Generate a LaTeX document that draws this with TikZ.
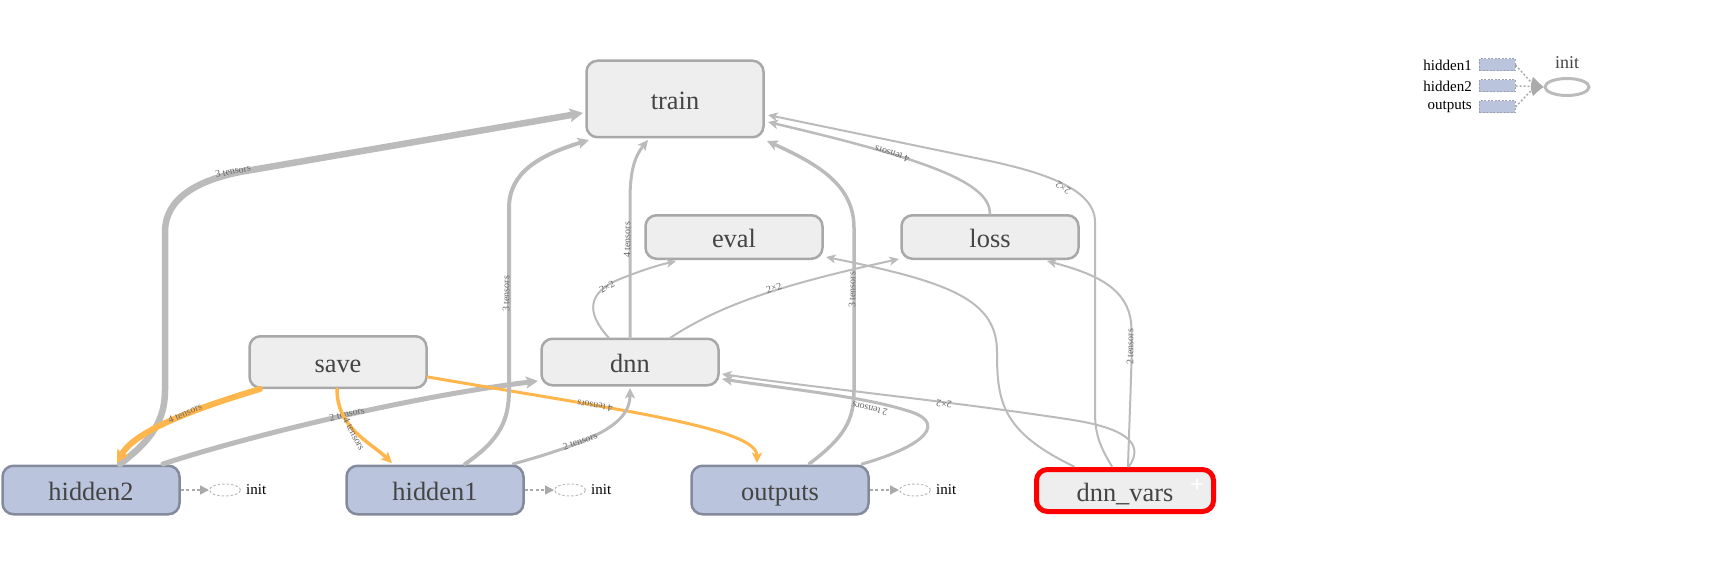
\documentclass[tikz,border=0pt]{standalone}
\usepackage{fontspec}
\setmainfont{Liberation Serif}
\usetikzlibrary{arrows.meta,calc,shapes.geometric}
\definecolor{edgec}{HTML}{BBBBBB}
\definecolor{opfill}{HTML}{EEEEEE}
\definecolor{opdraw}{HTML}{A8A8A8}
\definecolor{metafill}{HTML}{BAC4DC}
\definecolor{metadraw}{HTML}{828A9C}
\definecolor{orng}{HTML}{FFB74D}
\definecolor{txtc}{HTML}{444444}
\definecolor{lblc}{HTML}{666666}
\definecolor{initc}{HTML}{AAAAAA}
\tikzset{
  opbox/.style={rectangle, rounded corners=11pt, fill=opfill, draw=opdraw, line width=2.5pt,
    minimum width=177pt, inner sep=0pt, text=txtc, text height=22pt, text depth=1pt, font=\fontsize{26.4}{30}\selectfont},
  metabox/.style={opbox, fill=metafill, draw=metadraw, minimum height=48.5pt},
  edg/.style={draw=edgec, line cap=round, -{Stealth[length=8pt 0.8, width=7pt 1, inset=2.5pt]}},
  oedg/.style={edg, draw=orng},
  lbl/.style={inner sep=0pt, text=lblc, font=\fontsize{10}{12}\selectfont},
  initline/.style={draw=initc, line width=1.5pt, dash pattern=on 3pt off 2.5pt, -{Triangle[length=9pt,width=9pt]}},
  initell/.style={ellipse, draw=initc!80, line width=1pt, dash pattern=on 2.5pt off 2pt, minimum width=31pt, minimum height=12pt, inner sep=0pt},
  inittxt/.style={inner sep=0pt, font=\fontsize{15}{18}\selectfont},
  legrect/.style={rectangle, fill=metafill, draw=metadraw!80, line width=1pt, dash pattern=on 2pt off 1.5pt, minimum width=36pt, minimum height=12pt, inner sep=0pt},
  legtxt/.style={inner sep=0pt, anchor=east, font=\fontsize{15}{18}\selectfont},
  legline/.style={draw=initc, line width=1.5pt, dash pattern=on 2pt off 2pt}
}
\begin{document}
\begin{tikzpicture}[x=1pt,y=-1pt]
\useasboundingbox (0,0) rectangle (1710,583);
% nodes
\node[opbox, minimum height=76.5pt] (train) at (675,99) {train};
\node[opbox, minimum height=43.5pt] (eval) at (734,237) {eval};
\node[opbox, minimum height=43.5pt] (loss) at (990,237) {loss};
\node[opbox, minimum height=51.5pt] (save) at (338,362) {save};
\node[opbox, minimum height=46.5pt] (dnn) at (630,362) {dnn};
\node[metabox] (hidden2) at (91,490) {hidden2};
\node[metabox] (hidden1) at (435,490) {hidden1};
\node[metabox] (outputs) at (780,490) {outputs};
\node[opbox, minimum height=42pt, draw=red, line width=5pt] (dnnvars) at (1125,490.5) {dnn\_vars};
\node[inner sep=0pt, text=white, font=\bfseries\fontsize{24}{24}\selectfont] (plus) at ($(dnnvars.center)+(72,-5)$) {+};

% init side nodes
\node[initell] (i2) at (225,490) {};
\node[inittxt, anchor=west] (i2t) at (246,490) {init};
\node[initell] (i1) at (570,490) {};
\node[inittxt, anchor=west] (i1t) at (591,490) {init};
\node[initell] (i3) at (915,490) {};
\node[inittxt, anchor=west] (i3t) at (936,490) {init};
\draw[initline] (hidden2.east) -- (i2.west);
\draw[initline] (hidden1.east) -- (i1.west);
\draw[initline] (outputs.east) -- (i3.west);

% legend
\node[legrect] (lh1) at (1497,65) {};
\node[legrect] (lh2) at (1497,86) {};
\node[legrect] (lout) at (1497,107) {};
\node[legtxt] (lh1t) at (1472,65) {hidden1};
\node[legtxt] (lh2t) at (1472,86) {hidden2};
\node[legtxt] (loutt) at (1472,107) {outputs};
\node[ellipse, draw=edgec, line width=3pt, fill=white, minimum width=44pt, minimum height=17pt, inner sep=0pt] (linit) at (1567,87) {};
\node[inner sep=0pt, text=txtc, font=\fontsize{18}{20}\selectfont] (linitt) at (1567,63) {init};
\coordinate (lhub) at (1535,86.5);
\draw[legline] (lh1.east) -- (lhub);
\draw[legline] (lh2.east) -- (lhub);
\draw[legline] (lout.east) -- (lhub);
\fill[initc] (1533,77) .. controls (1537,81) .. (linit.west) .. controls (1537,92) .. (1533,96) .. controls (1530,87) .. cycle;

% edges
% hidden2 -> train
\draw[edg, line width=6.5pt] ($(hidden2.center)+(29,-26)$) .. controls (152,440) and (165,420) .. (165,390) -- (165,232)
   .. controls (165,197) and (200,180) .. (240,172) -- ($(train.center)+(-92,14)$);
\node[lbl, rotate=11] (l1) at (233,171) {3 tensors};
% hidden2 -> dnn
\draw[edg, line width=5pt] ($(hidden2.center)+(72,-26)$) .. controls (235,440) and (400,398) .. ($(dnn.center)+(-92,19)$);
\node[lbl, rotate=13] (l2) at (347,414) {2 tensors};
% save -> hidden2
\draw[oedg, line width=6pt] ($(save.center)+(-78,27)$) .. controls (200,407) and (135,430) .. ($(hidden2.center)+(26,-27)$);
\node[lbl, rotate=24] (l3) at (185,413) {4 tensors};
% save -> hidden1
\draw[oedg, line width=3.5pt] ($(save.center)+(-1,27)$) .. controls (337,428) and (370,442) .. ($(hidden1.center)+(-43,-27)$);
\node[lbl, rotate=-62] (l4) at (354,434) {4 tensors};
% save -> outputs
\draw[oedg, line width=3pt] ($(save.center)+(90,15)$) .. controls (620,410) and (757,428) .. ($(outputs.center)+(-23,-27)$);
\node[lbl, rotate=171] (l5) at (595,406) {4 tensors};
% hidden1 -> train
\draw[edg, line width=4pt] ($(hidden1.center)+(30,-26)$) .. controls (500,440) and (509,420) .. (509,390) -- (509,208)
   .. controls (509,172) and (540,155) .. ($(train.center)+(-86,41)$);
\node[lbl, rotate=90] (l6) at (506,294) {3 tensors};
% hidden1 -> dnn
\draw[edg, line width=3pt] ($(hidden1.center)+(78,-26)$) .. controls (600,440) and (630,422) .. ($(dnn.center)+(0,26)$);
\node[lbl, rotate=20] (l7) at (580,441) {2 tensors};
% dnn -> train
\draw[edg, line width=3pt] ($(dnn.center)+(0,-24)$) -- (630,200) .. controls (630,170) and (635,156) .. ($(train.center)+(-27,41)$);
\node[lbl, rotate=90] (l8) at (627,240) {4 tensors};
% dnn -> eval
\draw[edg, line width=2pt] ($(dnn.center)+(-21,-24)$) .. controls (585,312) and (588,292) .. (620,279) .. controls (640,271) and (655,266) .. ($(eval.center)+(-58,24)$);
\node[lbl, rotate=30] (l9) at (607,287) {2×2};
% dnn -> loss
\draw[edg, line width=2pt] ($(dnn.center)+(40,-24)$) .. controls (720,305) and (780,285) .. ($(loss.center)+(-91,22)$);
\node[lbl, rotate=16] (l10) at (774,288) {2×2};
% outputs -> train
\draw[edg, line width=3.5pt] ($(outputs.center)+(29,-26)$) .. controls (845,437) and (854,420) .. (854,390) -- (854,228)
   .. controls (854,186) and (820,165) .. ($(train.center)+(92,42)$);
\node[lbl, rotate=90] (l11) at (852,290) {3 tensors};
% outputs -> dnn
\draw[edg, line width=3pt] ($(outputs.center)+(82,-26)$) .. controls (925,446) and (950,422) .. (905,410) .. controls (860,396) and (780,388) .. ($(dnn.center)+(92,17)$);
\node[lbl, rotate=167] (l12) at (870,409) {2 tensors};
% loss -> train
\draw[edg, line width=2.5pt] ($(loss.center)+(0,-23)$) .. controls (990,183) and (930,160) .. ($(train.center)+(93,23)$);
\node[lbl, rotate=163] (l13) at (892,154) {4 tensors};
% dnn_vars -> train
\draw[edg, line width=2pt] ($(dnnvars.center)+(-13,-24)$) .. controls (1097,442) and (1095,430) .. (1095,410) -- (1095,222)
   .. controls (1095,188) and (1040,172) .. (990,161) -- ($(train.center)+(93,16)$);
\node[lbl, rotate=146] (l14) at (1063,188) {2×2};
% dnn_vars -> loss
\draw[edg, line width=2pt] ($(dnnvars.center)+(3,-24)$) .. controls (1130,400) and (1133,345) .. (1131,322) .. controls (1127,290) and (1100,275) .. ($(loss.center)+(57,24)$);
\node[lbl, rotate=90] (l15) at (1130,347) {2 tensors};
% dnn_vars -> eval
\draw[edg, line width=2pt] ($(dnnvars.center)+(-51,-24)$) .. controls (1002,432) and (997,402) .. (997,352) .. controls (997,300) and (950,282) .. ($(eval.center)+(92,20)$);
% dnn_vars -> dnn
\draw[edg, line width=2pt] ($(dnnvars.center)+(4,-24)$) .. controls (1146,442) and (1122,428) .. (1073,420) .. controls (950,401) and (800,386) .. ($(dnn.center)+(92,12)$);
\node[lbl, rotate=172] (l17) at (944,404) {2×2};
\end{tikzpicture}
\end{document}
